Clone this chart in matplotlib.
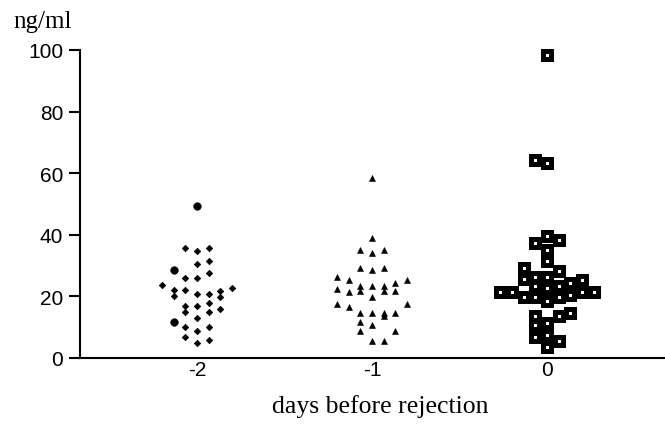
import matplotlib
matplotlib.use("Agg")
import matplotlib.pyplot as plt

# ---------------- data ----------------
categories = [-2, -1, 0]
tick_labels = ["-2", "-1", "0"]
y_ticks = [0, 20, 40, 60, 80, 100]
y_label = "ng/ml"
x_label = "days before rejection"

# day -2 (diamonds) : value and swarm column
day2_values = [35.6, 35.6, 34.6, 30.5, 31.6, 25.9, 25.9, 27.6, 23.7, 22.7,
               22.1, 22.1, 20.2, 20.8, 20.8, 21.9, 19.7, 16.8, 16.8, 17.9,
               15.0, 14.8, 15.9, 12.9, 10.0, 8.9, 10.0, 6.7, 5.9, 4.9]
day2_cols = [-1, 1, 0, 0, 1, -1, 0, 1, -3, 3,
             -2, -1, -2, 0, 1, 2, 2, -1, 0, 1,
             -1, 1, 2, 0, -1, 0, 1, -1, 1, 0]
# day -2 (filled circles)
day2c_values = [49.4, 28.7, 11.6]
day2c_cols = [0, -2, -2]

# day -1 (triangles)
day1_values = [58.4, 39.0, 35.2, 35.2, 34.1, 29.3, 29.3, 28.6, 26.2, 25.4,
               25.4, 24.4, 23.5, 23.5, 23.5, 22.4, 21.3, 21.7, 21.7, 21.7,
               19.7, 17.5, 16.7, 17.5, 14.6, 14.6, 14.6, 14.6, 13.5, 11.6,
               10.7, 8.7, 8.7, 5.4, 5.4]
day1_cols = [0, 0, -1, 1, 0, -1, 1, 0, -3, -2,
             3, 2, -1, 0, 1, -3, -2, -1, 1, 2,
             0, -3, -2, 3, -1, 0, 1, 2, 1, -1,
             0, -1, 2, 0, 1]

# day 0 (open squares)
day0_values = [98.5, 64.4, 63.3, 39.7, 37.3, 38.3, 35.1, 31.4, 29.2, 28.3,
               25.6, 26.2, 26.2, 23.5, 22.6, 23.5, 24.4, 25.4, 21.5, 21.5,
               21.5, 21.5, 19.7, 19.7, 19.7, 18.6, 20.5, 13.7, 13.5, 14.6,
               10.7, 11.4, 6.7, 7.6, 5.4, 3.5]
day0_cols = [0, -1, 0, 0, -1, 1, 0, 0, -2, 1,
             -2, -1, 0, -1, 0, 1, 2, 3, -4, -3,
             3, 4, -2, -1, 1, 0, 2, -1, 1, 2,
             -1, 0, -1, 0, 1, 0]

# ---------------- figure ----------------
W, H = 665, 427
fig = plt.figure(figsize=(W / 100, H / 100), dpi=100)
ax = fig.add_axes([80 / W, (H - 359) / H, (W - 80) / W, (359 - 51) / H])

step = 0.0667


def xs(center, cols):
    return [center + c * step for c in cols]


ax.plot(xs(categories[0], day2_cols), day2_values, linestyle="none",
        marker="D", markersize=3.3, markerfacecolor="black",
        markeredgecolor="black", markeredgewidth=0.5, clip_on=False)
ax.plot(xs(categories[0], day2c_cols), day2c_values, linestyle="none",
        marker="o", markersize=5.6, markerfacecolor="black",
        markeredgecolor="black", markeredgewidth=0.3, clip_on=False)
ax.plot(xs(categories[1], day1_cols), day1_values, linestyle="none",
        marker="^", markersize=5.0, markerfacecolor="black",
        markeredgecolor="black", markeredgewidth=0.4, clip_on=False)
ax.plot(xs(categories[2], day0_cols), day0_values, linestyle="none",
        marker="s", markersize=6.0, markerfacecolor="white",
        markeredgecolor="black", markeredgewidth=3.6, clip_on=False)

ax.set_xlim(-2.669, 0.674)
ax.set_ylim(0, 100)

ax.spines["top"].set_visible(False)
ax.spines["right"].set_visible(False)
for s in ("left", "bottom"):
    ax.spines[s].set_linewidth(1.5)
    ax.spines[s].set_color("black")

ax.set_xticks(categories)
ax.set_xticklabels(tick_labels, fontfamily="Liberation Sans", fontsize=15)
ax.tick_params(axis="x", length=0, pad=1.5)
ax.set_yticks(y_ticks)
ax.set_yticklabels([str(v) for v in y_ticks], fontfamily="Liberation Sans",
                   fontsize=15)
ax.tick_params(axis="y", length=8, width=1.5, pad=4)

fig.text(13 / W, 1 - 28 / H, y_label, family="Liberation Serif", fontsize=18,
         ha="left", va="baseline")
fig.text(380 / W, 1 - 413 / H, x_label, family="Liberation Serif",
         fontsize=18.5, ha="center", va="baseline")

fig.savefig("out.png", dpi=100)
